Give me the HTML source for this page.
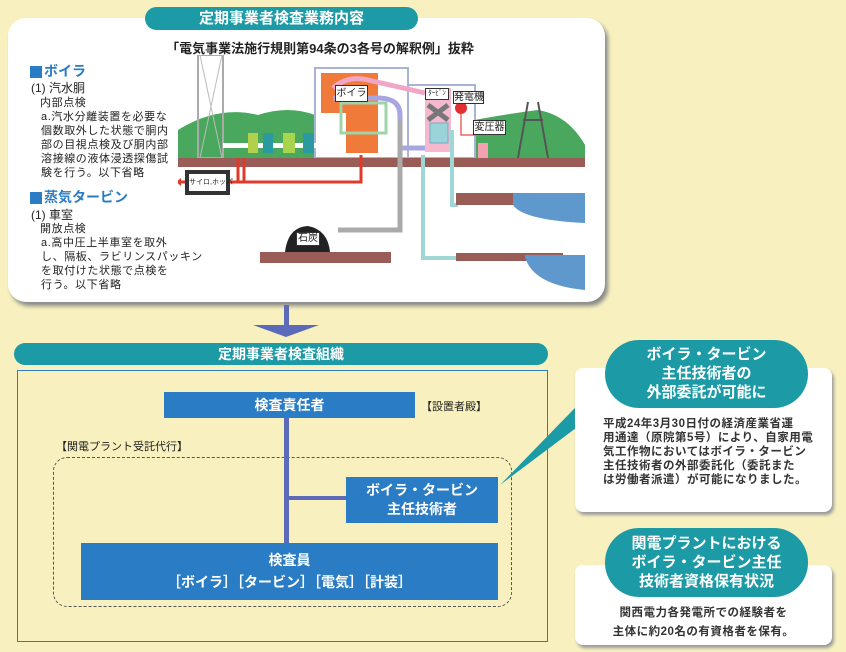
<!DOCTYPE html>
<html><head><meta charset="utf-8"><style>
*{margin:0;padding:0;box-sizing:border-box}
body{width:846px;height:652px;position:relative;overflow:hidden;background:#f8f1bf;font-family:"Liberation Sans","Noto Sans CJK JP",sans-serif;color:#222}
.a{position:absolute;white-space:nowrap}
.pill{position:absolute;background:#1c9ba6;color:#fff;font-weight:bold;text-align:center;border-radius:14px}
.blue{position:absolute;background:#2a7cc4;color:#fff;font-weight:bold;text-align:center;font-size:14px}
.t{font-size:11px;letter-spacing:0.6px;line-height:14px}
</style></head><body>
<!-- top panel -->
<div class="a" style="left:8px;top:18px;width:597px;height:284px;background:#fff;border-radius:18px;box-shadow:3px 4px 4px #888"></div>
<div class="pill" style="left:145px;top:7px;width:273px;height:23px;font-size:15px;line-height:23px">定期事業者検査業務内容</div>
<div class="a" style="left:145px;top:38px;width:350px;text-align:center;font-size:13px;font-weight:bold">「電気事業法施行規則第94条の3各号の解釈例」抜粋</div>

<div class="a" style="left:30px;top:66px;width:12px;height:12px;background:#2a7cc4"></div>
<div class="a" style="left:44px;top:63px;font-size:14px;line-height:17px;font-weight:bold;color:#2a7cc4">ボイラ</div>
<div class="a" style="left:31px;top:81px;font-size:12px;line-height:15px">(1) 汽水胴</div>
<div class="a t" style="left:40px;top:96px">内部点検</div>
<div class="a t" style="left:41px;top:110px">a.汽水分離装置を必要な<br>個数取外した状態で胴内<br>部の目視点検及び胴内部<br>溶接線の液体浸透探傷試<br>験を行う。以下省略</div>

<div class="a" style="left:30px;top:192px;width:12px;height:12px;background:#2a7cc4"></div>
<div class="a" style="left:44px;top:189px;font-size:14px;line-height:17px;font-weight:bold;color:#2a7cc4">蒸気タービン</div>
<div class="a" style="left:31px;top:208px;font-size:12px;line-height:15px">(1) 車室</div>
<div class="a t" style="left:40px;top:222px">開放点検</div>
<div class="a t" style="left:41px;top:236px">a.高中圧上半車室を取外<br>し、隔板、ラビリンスパッキン<br>を取付けた状態で点検を<br>行う。以下省略</div>

<svg class="a" style="left:178px;top:55px" width="425" height="240" viewBox="0 0 425 240">
<path d="M0 103 L0 75 Q40 50 80 60 Q110 50 137 60 L137 103Z" fill="#4aa85e"/>
<path d="M270 103 L270 70 Q320 60 360 55 Q390 60 407 90 L407 103Z" fill="#4aa85e"/>
<rect x="137" y="13" width="93" height="90" fill="#fff" stroke="#a9b3d8" stroke-width="2"/>
<rect x="230" y="30" width="67" height="73" fill="#fff" stroke="#a9b3d8" stroke-width="2"/>
<rect x="143" y="18" width="57" height="40" fill="#f07a3a"/>
<rect x="168" y="58" width="32" height="40" fill="#f07a3a"/>
<rect x="163" y="48" width="45" height="30" fill="none" stroke="#9fd3a8" stroke-width="3"/>
<path d="M155 33 Q170 20 190 25 L247 38 L247 38" stroke="#f2a6c6" stroke-width="5" fill="none"/>
<path d="M155 43 L200 43 Q222 43 222 60 L222 93 L260 93" stroke="#a7a6e0" stroke-width="5" fill="none"/>
<rect x="247" y="33" width="26" height="64" fill="#f6b8cf"/>
<path d="M250 50 L270 65 M270 50 L250 65" stroke="#777" stroke-width="5"/>
<rect x="252" y="68" width="18" height="20" fill="#9bd4d8" stroke="#7ab" />
<circle cx="283" cy="53" r="6" fill="#e23030"/>
<path d="M283 59 L283 80 L300 80" stroke="#e66" stroke-width="1.5" fill="none"/>
<rect x="300" y="88" width="10" height="15" fill="#f4a0b0"/>
<rect x="20" y="0" width="25" height="103" fill="none" stroke="#aaa" stroke-width="2"/>
<path d="M22 0 L44 103 M44 0 L22 103" stroke="#bbb"/>
<rect x="45" y="88" width="95" height="5" fill="#fff"/>
<rect x="70" y="78" width="10" height="20" fill="#b2d04b"/><rect x="85" y="78" width="10" height="20" fill="#2a9aa0"/><rect x="105" y="78" width="12" height="20" fill="#a8d44e"/><rect x="125" y="78" width="11" height="20" fill="#2a9aa0"/>
<path d="M350 47 L340 103 M360 47 L370 103 M345 65 L365 65" stroke="#555" stroke-width="2"/>
<rect x="0" y="103" width="407" height="9" fill="#9a5c56"/>
<path d="M60 103 L60 127 M66 103 L66 127 M183 100 L183 127 L-10 127" stroke="#e03a2a" stroke-width="3" fill="none"/>
<path d="M-2 127 L3 123 L3 131Z" fill="#e03a2a"/>
<path d="M222 65 L222 175 L160 175" stroke="#aaa" stroke-width="5" fill="none"/>
<path d="M245 100 L245 203 L280 203 M274 75 L274 150 L280 150" stroke="#9fd6d6" stroke-width="4" fill="none"/>
<rect x="82" y="197" width="131" height="11" fill="#9a5c56"/>
<path d="M107 197 Q110 172 130 171 Q150 175 152 197Z" fill="#222"/>
<rect x="278" y="138" width="107" height="12" fill="#9a5c56"/>
<path d="M335 150 Q345 165 407 168 L407 138 L335 138Z" fill="#5f98cc"/>
<rect x="278" y="198" width="107" height="8" fill="#9a5c56"/>
<path d="M347 202 Q355 230 407 235 L407 200 L347 200Z" fill="#5f98cc"/>
</svg>
<div class="a" style="left:335px;top:85px;width:33px;height:17px;background:#fff;border:1px solid #333;font-size:10px;text-align:center;line-height:15px">ボイラ</div>
<div class="a" style="left:425px;top:88px;width:24px;height:12px;background:#fff;border:1px solid #333;font-size:7px;text-align:center;line-height:10px">ﾀｰﾋﾞﾝ</div>
<div class="a" style="left:453px;top:91px;width:31px;height:13px;background:#fff;border:1px solid #333;font-size:10px;text-align:center;line-height:11px">発電機</div>
<div class="a" style="left:473px;top:120px;width:33px;height:15px;background:#fff;border:1px solid #333;font-size:10px;text-align:center;line-height:13px">変圧器</div>
<div class="a" style="left:185px;top:170px;width:45px;height:25px;background:#333;padding:4px"><div style="background:#fff;font-size:7px;line-height:17px;text-align:center">サイロ,ホッパ</div></div>
<div class="a" style="left:296px;top:232px;width:24px;height:14px;background:#fff;border:1px solid #333;font-size:10px;text-align:center;line-height:12px">石炭</div>

<!-- arrow -->
<div class="a" style="left:284px;top:305px;width:5px;height:21px;background:#5b6ab9"></div>
<div class="a" style="left:253px;top:325px;width:0;height:0;border-left:33px solid transparent;border-right:33px solid transparent;border-top:12px solid #5b6ab9"></div>

<!-- org -->
<div class="pill" style="left:14px;top:343px;width:534px;height:22px;font-size:14px;line-height:22px;border-radius:11px">定期事業者検査組織</div>
<div class="a" style="left:17px;top:370px;width:531px;height:272px;border:1px solid #2a7cc4"></div>
<div class="a" style="left:53px;top:457px;width:459px;height:150px;border:1px dashed #555;border-radius:14px"></div>
<div class="a" style="left:284px;top:418px;width:5px;height:126px;background:#5b6ab9"></div>
<div class="a" style="left:286px;top:496px;width:60px;height:4px;background:#5b6ab9"></div>
<div class="blue" style="left:164px;top:392px;width:251px;height:26px;line-height:26px">検査責任者</div>
<div class="a" style="left:421px;top:398px;font-size:11px">【設置者殿】</div>
<div class="a" style="left:56px;top:438px;font-size:11px">【関電プラント受託代行】</div>
<div class="blue" style="left:346px;top:477px;width:152px;height:46px;line-height:19px;padding-top:4px">ボイラ・タービン<br>主任技術者</div>
<div class="blue" style="left:81px;top:543px;width:417px;height:57px;line-height:22px;padding-top:6px">検査員<br>［ボイラ］［タービン］［電気］［計装］</div>
<svg class="a" style="left:495px;top:365px" width="130" height="125"><path d="M5 120 L112 10 L125 30Z" fill="#1c9ba6"/></svg>

<!-- callout 1 -->
<div class="a" style="left:575px;top:368px;width:257px;height:144px;background:#fff;border-radius:8px;box-shadow:2px 3px 3px #999"></div>
<div class="pill" style="left:605px;top:340px;width:203px;height:68px;border-radius:34px;font-size:15px;line-height:19px;padding-top:5px">ボイラ・タービン<br>主任技術者の<br>外部委託が可能に</div>
<div class="a" style="left:603px;top:417px;font-size:11.5px;line-height:14px;letter-spacing:0.5px;font-weight:bold;color:#333">平成24年3月30日付の経済産業省運<br>用通達（原院第5号）により、自家用電<br>気工作物においてはボイラ・タービン<br>主任技術者の外部委託化（委託また<br>は労働者派遣）が可能になりました。</div>

<!-- callout 2 -->
<div class="a" style="left:575px;top:565px;width:257px;height:80px;background:#fff;border-radius:8px;box-shadow:2px 3px 3px #999"></div>
<div class="pill" style="left:605px;top:528px;width:203px;height:69px;border-radius:34px;font-size:15px;line-height:19px;padding-top:6px">関電プラントにおける<br>ボイラ・タービン主任<br>技術者資格保有状況</div>
<div class="a" style="left:575px;top:604px;width:257px;text-align:center;font-size:11.5px;line-height:19px;letter-spacing:0.5px;font-weight:bold;color:#333">関西電力各発電所での経験者を<br>主体に約20名の有資格者を保有。</div>
</body></html>
